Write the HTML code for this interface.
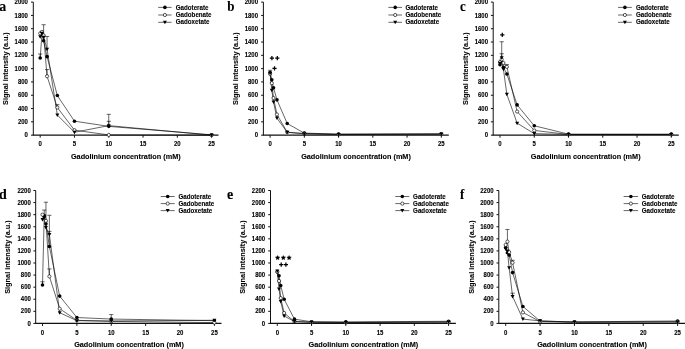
<!DOCTYPE html>
<html><head><meta charset="utf-8"><style>
html,body{margin:0;padding:0;background:#fff;}
svg{display:block;will-change:transform;}
text{font-family:"Liberation Sans",sans-serif;font-weight:bold;fill:#000;stroke:#000;stroke-width:0.1px;}
.t{font-size:6.0px;}
.ti{font-size:7.3px;}
.yti{font-size:7.23px;stroke-width:0.08px;}
.lg{font-size:6.2px;}
.an{font-size:9px;}
.let{font-family:"Liberation Serif",serif;font-size:13px;}
</style></head><body>
<svg width="685" height="349" viewBox="0 0 685 349">
<rect width="685" height="349" fill="#fff"/>
<path d="M33.3 2.1V135.15" fill="none" stroke="#111" stroke-width="1.0"/>
<path d="M32.8 135.15H218.5" fill="none" stroke="#111" stroke-width="1.3"/>
<text transform="translate(27.9 137.25) scale(1 1.07)" class="t" text-anchor="end">0</text>
<text transform="translate(27.9 123.94) scale(1 1.07)" class="t" text-anchor="end">200</text>
<text transform="translate(27.9 110.64) scale(1 1.07)" class="t" text-anchor="end">400</text>
<text transform="translate(27.9 97.34) scale(1 1.07)" class="t" text-anchor="end">600</text>
<text transform="translate(27.9 84.03) scale(1 1.07)" class="t" text-anchor="end">800</text>
<text transform="translate(27.9 70.72) scale(1 1.07)" class="t" text-anchor="end">1000</text>
<text transform="translate(27.9 57.42) scale(1 1.07)" class="t" text-anchor="end">1200</text>
<text transform="translate(27.9 44.12) scale(1 1.07)" class="t" text-anchor="end">1400</text>
<text transform="translate(27.9 30.81) scale(1 1.07)" class="t" text-anchor="end">1600</text>
<text transform="translate(27.9 17.51) scale(1 1.07)" class="t" text-anchor="end">1800</text>
<text transform="translate(27.9 4.2) scale(1 1.07)" class="t" text-anchor="end">2000</text>
<text transform="translate(40.2 146.1) scale(1 1.07)" class="t" text-anchor="middle">0</text>
<text transform="translate(74.48 146.1) scale(1 1.07)" class="t" text-anchor="middle">5</text>
<text transform="translate(108.76 146.1) scale(1 1.07)" class="t" text-anchor="middle">10</text>
<text transform="translate(143.04 146.1) scale(1 1.07)" class="t" text-anchor="middle">15</text>
<text transform="translate(177.32 146.1) scale(1 1.07)" class="t" text-anchor="middle">20</text>
<text transform="translate(211.6 146.1) scale(1 1.07)" class="t" text-anchor="middle">25</text>
<path d="M31 135.15H33.3M31 121.84H33.3M31 108.54H33.3M31 95.24H33.3M31 81.93H33.3M31 68.62H33.3M31 55.32H33.3M31 42.02H33.3M31 28.71H33.3M31 15.41H33.3M31 2.1H33.3M40.2 135.15v2.5M74.48 135.15v2.5M108.76 135.15v2.5M143.04 135.15v2.5M177.32 135.15v2.5M211.6 135.15v2.5" stroke="#111" stroke-width="1.0" fill="none"/>
<text transform="translate(125.8 158.8) scale(1 1.07)" class="ti" text-anchor="middle">Gadolinium concentration (mM)</text>
<text transform="translate(8.4 68.6) rotate(-90) scale(1 1.05)" class="yti" style="font-size:7.23px" text-anchor="middle">Signal intensity (a.u.)</text>
<text transform="translate(-0.7 10.6) scale(1 1.1)" class="let" style="font-size:14px">a</text>
<path d="M158.2 7.4H171.6" stroke="#000" stroke-width="0.6"/>
<circle cx="164.9" cy="7.4" r="1.8" fill="#000"/>
<text transform="translate(175.8 9.5) scale(1 1.07)" class="lg">Gadoterate</text>
<path d="M158.2 15H171.6" stroke="#000" stroke-width="0.6"/>
<circle cx="164.9" cy="15" r="1.6" fill="#fff" stroke="#000" stroke-width="0.65"/>
<text transform="translate(175.8 16.5) scale(1 1.07)" class="lg">Gadobenate</text>
<path d="M158.2 22.3H171.6" stroke="#000" stroke-width="0.6"/>
<path d="M162.9 20.8H166.9L164.9 24.3Z" fill="#000"/>
<text transform="translate(175.8 23.7) scale(1 1.07)" class="lg">Gadoxetate</text>
<path d="M40.2 57.98V53.99M38.1 53.99h4.2" stroke="#000" stroke-width="0.6" fill="none"/>
<path d="M43.63 35.36V24.72M41.53 24.72h4.2" stroke="#000" stroke-width="0.6" fill="none"/>
<path d="M47.06 49.13V36.49M44.96 36.49h4.2" stroke="#000" stroke-width="0.6" fill="none"/>
<path d="M47.06 76.28V69.62M44.96 69.62h4.2" stroke="#000" stroke-width="0.6" fill="none"/>
<path d="M57.34 107.48V104.68M55.24 104.68h4.2" stroke="#000" stroke-width="0.6" fill="none"/>
<path d="M108.76 125.64V114.33M106.66 114.33h4.2" stroke="#000" stroke-width="0.6" fill="none"/>
<path d="M108.76 126.37V121.31M106.66 121.31h4.2" stroke="#000" stroke-width="0.6" fill="none"/>
<path d="M40.2 57.98L41.91 34.36L43.63 40.82L47.06 56.65L57.34 95.57L74.48 121.18L108.76 126.37L211.6 134.82" stroke="#000" stroke-width="0.6" fill="none"/>
<path d="M40.2 33.37L41.91 31.9L43.63 35.36L47.06 76.28L57.34 107.48L74.48 130.16L108.76 134.95L211.6 135.15" stroke="#000" stroke-width="0.6" fill="none"/>
<path d="M40.2 36.69L41.91 33.37L43.63 37.36L47.06 49.13L57.34 115.06L74.48 132.22L108.76 125.64L211.6 135.15" stroke="#000" stroke-width="0.6" fill="none"/>
<circle cx="40.2" cy="57.98" r="1.8" fill="#000"/>
<circle cx="41.91" cy="34.36" r="1.8" fill="#000"/>
<circle cx="43.63" cy="40.82" r="1.8" fill="#000"/>
<circle cx="47.06" cy="56.65" r="1.8" fill="#000"/>
<circle cx="57.34" cy="95.57" r="1.8" fill="#000"/>
<circle cx="74.48" cy="121.18" r="1.8" fill="#000"/>
<circle cx="108.76" cy="126.37" r="1.8" fill="#000"/>
<circle cx="211.6" cy="134.82" r="1.8" fill="#000"/>
<circle cx="40.2" cy="33.37" r="1.6" fill="#fff" stroke="#000" stroke-width="0.65"/>
<circle cx="41.91" cy="31.9" r="1.6" fill="#fff" stroke="#000" stroke-width="0.65"/>
<circle cx="43.63" cy="35.36" r="1.6" fill="#fff" stroke="#000" stroke-width="0.65"/>
<circle cx="47.06" cy="76.28" r="1.6" fill="#fff" stroke="#000" stroke-width="0.65"/>
<circle cx="57.34" cy="107.48" r="1.6" fill="#fff" stroke="#000" stroke-width="0.65"/>
<circle cx="74.48" cy="130.16" r="1.6" fill="#fff" stroke="#000" stroke-width="0.65"/>
<circle cx="108.76" cy="134.95" r="1.6" fill="#fff" stroke="#000" stroke-width="0.65"/>
<circle cx="211.6" cy="135.15" r="1.6" fill="#fff" stroke="#000" stroke-width="0.65"/>
<path d="M38.2 35.19H42.2L40.2 38.69Z" fill="#000"/>
<path d="M39.91 31.87H43.91L41.91 35.37Z" fill="#000"/>
<path d="M41.63 35.86H45.63L43.63 39.36Z" fill="#000"/>
<path d="M45.06 47.63H49.06L47.06 51.13Z" fill="#000"/>
<path d="M55.34 113.56H59.34L57.34 117.06Z" fill="#000"/>
<path d="M72.48 130.72H76.48L74.48 134.22Z" fill="#000"/>
<path d="M106.76 124.14H110.76L108.76 127.64Z" fill="#000"/>
<path d="M209.6 133.65H213.6L211.6 137.15Z" fill="#000"/>
<path d="M263.4 2.1V135.15" fill="none" stroke="#111" stroke-width="1.0"/>
<path d="M262.9 135.15H448.8" fill="none" stroke="#111" stroke-width="1.3"/>
<text transform="translate(258 137.25) scale(1 1.07)" class="t" text-anchor="end">0</text>
<text transform="translate(258 123.94) scale(1 1.07)" class="t" text-anchor="end">200</text>
<text transform="translate(258 110.64) scale(1 1.07)" class="t" text-anchor="end">400</text>
<text transform="translate(258 97.34) scale(1 1.07)" class="t" text-anchor="end">600</text>
<text transform="translate(258 84.03) scale(1 1.07)" class="t" text-anchor="end">800</text>
<text transform="translate(258 70.72) scale(1 1.07)" class="t" text-anchor="end">1000</text>
<text transform="translate(258 57.42) scale(1 1.07)" class="t" text-anchor="end">1200</text>
<text transform="translate(258 44.12) scale(1 1.07)" class="t" text-anchor="end">1400</text>
<text transform="translate(258 30.81) scale(1 1.07)" class="t" text-anchor="end">1600</text>
<text transform="translate(258 17.51) scale(1 1.07)" class="t" text-anchor="end">1800</text>
<text transform="translate(258 4.2) scale(1 1.07)" class="t" text-anchor="end">2000</text>
<text transform="translate(270.1 146.1) scale(1 1.07)" class="t" text-anchor="middle">0</text>
<text transform="translate(304.34 146.1) scale(1 1.07)" class="t" text-anchor="middle">5</text>
<text transform="translate(338.58 146.1) scale(1 1.07)" class="t" text-anchor="middle">10</text>
<text transform="translate(372.82 146.1) scale(1 1.07)" class="t" text-anchor="middle">15</text>
<text transform="translate(407.06 146.1) scale(1 1.07)" class="t" text-anchor="middle">20</text>
<text transform="translate(441.3 146.1) scale(1 1.07)" class="t" text-anchor="middle">25</text>
<path d="M261.1 135.15H263.4M261.1 121.84H263.4M261.1 108.54H263.4M261.1 95.24H263.4M261.1 81.93H263.4M261.1 68.62H263.4M261.1 55.32H263.4M261.1 42.02H263.4M261.1 28.71H263.4M261.1 15.41H263.4M261.1 2.1H263.4M270.1 135.15v2.5M304.34 135.15v2.5M338.58 135.15v2.5M372.82 135.15v2.5M407.06 135.15v2.5M441.3 135.15v2.5" stroke="#111" stroke-width="1.0" fill="none"/>
<text transform="translate(356 158.8) scale(1 1.07)" class="ti" text-anchor="middle">Gadolinium concentration (mM)</text>
<text transform="translate(238.1 68.6) rotate(-90) scale(1 1.05)" class="yti" style="font-size:7.23px" text-anchor="middle">Signal intensity (a.u.)</text>
<text transform="translate(227.3 10.9) scale(1 1.1)" class="let" style="font-size:13px">b</text>
<path d="M388.4 7.4H402" stroke="#000" stroke-width="0.6"/>
<circle cx="395.2" cy="7.4" r="1.8" fill="#000"/>
<text transform="translate(405.4 9.5) scale(1 1.07)" class="lg">Gadoterate</text>
<path d="M388.4 15H402" stroke="#000" stroke-width="0.6"/>
<circle cx="395.2" cy="15" r="1.6" fill="#fff" stroke="#000" stroke-width="0.65"/>
<text transform="translate(405.4 16.5) scale(1 1.07)" class="lg">Gadobenate</text>
<path d="M388.4 22.3H402" stroke="#000" stroke-width="0.6"/>
<path d="M393.2 20.8H397.2L395.2 24.3Z" fill="#000"/>
<text transform="translate(405.4 23.7) scale(1 1.07)" class="lg">Gadoxetate</text>
<path d="M270.1 73.22V70.29M268 70.29h4.2" stroke="#000" stroke-width="0.6" fill="none"/>
<path d="M270.1 72.62L271.81 79.73L273.52 87.72L276.95 99.83L287.22 123.51L304.34 133.15L338.58 134.02L441.3 133.82" stroke="#000" stroke-width="0.6" fill="none"/>
<path d="M270.1 73.95L271.81 83.13L273.52 98.03L276.95 114.46L287.22 132.16L304.34 133.49L338.58 134.48L441.3 134.15" stroke="#000" stroke-width="0.6" fill="none"/>
<path d="M270.1 73.22L271.81 90.31L273.52 102.02L276.95 118.12L287.22 132.36L304.34 133.82L338.58 134.48L441.3 134.15" stroke="#000" stroke-width="0.6" fill="none"/>
<circle cx="270.1" cy="72.62" r="1.8" fill="#000"/>
<circle cx="271.81" cy="79.73" r="1.8" fill="#000"/>
<circle cx="273.52" cy="87.72" r="1.8" fill="#000"/>
<circle cx="276.95" cy="99.83" r="1.8" fill="#000"/>
<circle cx="287.22" cy="123.51" r="1.8" fill="#000"/>
<circle cx="304.34" cy="133.15" r="1.8" fill="#000"/>
<circle cx="338.58" cy="134.02" r="1.8" fill="#000"/>
<circle cx="441.3" cy="133.82" r="1.8" fill="#000"/>
<circle cx="270.1" cy="73.95" r="1.6" fill="#fff" stroke="#000" stroke-width="0.65"/>
<circle cx="271.81" cy="83.13" r="1.6" fill="#fff" stroke="#000" stroke-width="0.65"/>
<circle cx="273.52" cy="98.03" r="1.6" fill="#fff" stroke="#000" stroke-width="0.65"/>
<circle cx="276.95" cy="114.46" r="1.6" fill="#fff" stroke="#000" stroke-width="0.65"/>
<circle cx="287.22" cy="132.16" r="1.6" fill="#fff" stroke="#000" stroke-width="0.65"/>
<circle cx="304.34" cy="133.49" r="1.6" fill="#fff" stroke="#000" stroke-width="0.65"/>
<circle cx="338.58" cy="134.48" r="1.6" fill="#fff" stroke="#000" stroke-width="0.65"/>
<circle cx="441.3" cy="134.15" r="1.6" fill="#fff" stroke="#000" stroke-width="0.65"/>
<path d="M268.1 71.72H272.1L270.1 75.22Z" fill="#000"/>
<path d="M269.81 88.81H273.81L271.81 92.31Z" fill="#000"/>
<path d="M271.52 100.52H275.52L273.52 104.02Z" fill="#000"/>
<path d="M274.95 116.62H278.95L276.95 120.12Z" fill="#000"/>
<path d="M285.22 130.86H289.22L287.22 134.36Z" fill="#000"/>
<path d="M302.34 132.32H306.34L304.34 135.82Z" fill="#000"/>
<path d="M336.58 132.98H340.58L338.58 136.48Z" fill="#000"/>
<path d="M439.3 132.65H443.3L441.3 136.15Z" fill="#000"/>
<path d="M269.8 58.1h4.2M271.9 56v4.2" stroke="#000" stroke-width="1.25" fill="none"/>
<path d="M275.2 58.1h4.2M277.3 56v4.2" stroke="#000" stroke-width="1.25" fill="none"/>
<path d="M272.4 68.4h4.2M274.5 66.3v4.2" stroke="#000" stroke-width="1.25" fill="none"/>
<path d="M493.2 2.1V135.15" fill="none" stroke="#111" stroke-width="1.0"/>
<path d="M492.7 135.15H678.8" fill="none" stroke="#111" stroke-width="1.3"/>
<text transform="translate(488 137.25) scale(1 1.07)" class="t" text-anchor="end">0</text>
<text transform="translate(488 123.94) scale(1 1.07)" class="t" text-anchor="end">200</text>
<text transform="translate(488 110.64) scale(1 1.07)" class="t" text-anchor="end">400</text>
<text transform="translate(488 97.34) scale(1 1.07)" class="t" text-anchor="end">600</text>
<text transform="translate(488 84.03) scale(1 1.07)" class="t" text-anchor="end">800</text>
<text transform="translate(488 70.72) scale(1 1.07)" class="t" text-anchor="end">1000</text>
<text transform="translate(488 57.42) scale(1 1.07)" class="t" text-anchor="end">1200</text>
<text transform="translate(488 44.12) scale(1 1.07)" class="t" text-anchor="end">1400</text>
<text transform="translate(488 30.81) scale(1 1.07)" class="t" text-anchor="end">1600</text>
<text transform="translate(488 17.51) scale(1 1.07)" class="t" text-anchor="end">1800</text>
<text transform="translate(488 4.2) scale(1 1.07)" class="t" text-anchor="end">2000</text>
<text transform="translate(500 146.1) scale(1 1.07)" class="t" text-anchor="middle">0</text>
<text transform="translate(534.26 146.1) scale(1 1.07)" class="t" text-anchor="middle">5</text>
<text transform="translate(568.52 146.1) scale(1 1.07)" class="t" text-anchor="middle">10</text>
<text transform="translate(602.78 146.1) scale(1 1.07)" class="t" text-anchor="middle">15</text>
<text transform="translate(637.04 146.1) scale(1 1.07)" class="t" text-anchor="middle">20</text>
<text transform="translate(671.3 146.1) scale(1 1.07)" class="t" text-anchor="middle">25</text>
<path d="M490.9 135.15H493.2M490.9 121.84H493.2M490.9 108.54H493.2M490.9 95.24H493.2M490.9 81.93H493.2M490.9 68.62H493.2M490.9 55.32H493.2M490.9 42.02H493.2M490.9 28.71H493.2M490.9 15.41H493.2M490.9 2.1H493.2M500 135.15v2.5M534.26 135.15v2.5M568.52 135.15v2.5M602.78 135.15v2.5M637.04 135.15v2.5M671.3 135.15v2.5" stroke="#111" stroke-width="1.0" fill="none"/>
<text transform="translate(585.7 158.8) scale(1 1.07)" class="ti" text-anchor="middle">Gadolinium concentration (mM)</text>
<text transform="translate(468.1 68.6) rotate(-90) scale(1 1.05)" class="yti" style="font-size:7.23px" text-anchor="middle">Signal intensity (a.u.)</text>
<text transform="translate(460 10.9) scale(1 1.1)" class="let" style="font-size:13px">c</text>
<path d="M618 7.4H631.8" stroke="#000" stroke-width="0.6"/>
<circle cx="624.9" cy="7.4" r="1.8" fill="#000"/>
<text transform="translate(636 9.5) scale(1 1.07)" class="lg">Gadoterate</text>
<path d="M618 15H631.8" stroke="#000" stroke-width="0.6"/>
<circle cx="624.9" cy="15" r="1.6" fill="#fff" stroke="#000" stroke-width="0.65"/>
<text transform="translate(636 16.5) scale(1 1.07)" class="lg">Gadobenate</text>
<path d="M618 22.3H631.8" stroke="#000" stroke-width="0.6"/>
<path d="M622.9 20.8H626.9L624.9 24.3Z" fill="#000"/>
<text transform="translate(636 23.7) scale(1 1.07)" class="lg">Gadoxetate</text>
<path d="M501.71 57.71V41.75M499.61 41.75h4.2" stroke="#000" stroke-width="0.6" fill="none"/>
<path d="M501.71 59.44V53.72M499.61 53.72h4.2" stroke="#000" stroke-width="0.6" fill="none"/>
<path d="M506.85 66.83V64.63M504.75 64.63h4.2" stroke="#000" stroke-width="0.6" fill="none"/>
<path d="M500 64.63L501.71 61.97L503.43 67.23L506.85 74.01L517.13 104.88L534.26 125.77L568.52 134.15L671.3 134.15" stroke="#000" stroke-width="0.6" fill="none"/>
<path d="M500 61.97L501.71 59.44L503.43 62.97L506.85 66.83L517.13 111.53L534.26 130.43L568.52 134.48L671.3 134.48" stroke="#000" stroke-width="0.6" fill="none"/>
<path d="M500 63.3L501.71 57.71L503.43 69.22L506.85 94.37L517.13 123.18L534.26 133.62L568.52 134.48L671.3 134.48" stroke="#000" stroke-width="0.6" fill="none"/>
<circle cx="500" cy="64.63" r="1.8" fill="#000"/>
<circle cx="501.71" cy="61.97" r="1.8" fill="#000"/>
<circle cx="503.43" cy="67.23" r="1.8" fill="#000"/>
<circle cx="506.85" cy="74.01" r="1.8" fill="#000"/>
<circle cx="517.13" cy="104.88" r="1.8" fill="#000"/>
<circle cx="534.26" cy="125.77" r="1.8" fill="#000"/>
<circle cx="568.52" cy="134.15" r="1.8" fill="#000"/>
<circle cx="671.3" cy="134.15" r="1.8" fill="#000"/>
<circle cx="500" cy="61.97" r="1.6" fill="#fff" stroke="#000" stroke-width="0.65"/>
<circle cx="501.71" cy="59.44" r="1.6" fill="#fff" stroke="#000" stroke-width="0.65"/>
<circle cx="503.43" cy="62.97" r="1.6" fill="#fff" stroke="#000" stroke-width="0.65"/>
<circle cx="506.85" cy="66.83" r="1.6" fill="#fff" stroke="#000" stroke-width="0.65"/>
<circle cx="517.13" cy="111.53" r="1.6" fill="#fff" stroke="#000" stroke-width="0.65"/>
<circle cx="534.26" cy="130.43" r="1.6" fill="#fff" stroke="#000" stroke-width="0.65"/>
<circle cx="568.52" cy="134.48" r="1.6" fill="#fff" stroke="#000" stroke-width="0.65"/>
<circle cx="671.3" cy="134.48" r="1.6" fill="#fff" stroke="#000" stroke-width="0.65"/>
<path d="M498 61.8H502L500 65.3Z" fill="#000"/>
<path d="M499.71 56.21H503.71L501.71 59.71Z" fill="#000"/>
<path d="M501.43 67.72H505.43L503.43 71.22Z" fill="#000"/>
<path d="M504.85 92.87H508.85L506.85 96.37Z" fill="#000"/>
<path d="M515.13 121.68H519.13L517.13 125.18Z" fill="#000"/>
<path d="M532.26 132.12H536.26L534.26 135.62Z" fill="#000"/>
<path d="M566.52 132.98H570.52L568.52 136.48Z" fill="#000"/>
<path d="M669.3 132.98H673.3L671.3 136.48Z" fill="#000"/>
<path d="M500.2 34.9h4.2M502.3 32.8v4.2" stroke="#000" stroke-width="1.25" fill="none"/>
<path d="M35.7 190.5V323.4" fill="none" stroke="#111" stroke-width="1.0"/>
<path d="M35.2 323.4H221.5" fill="none" stroke="#111" stroke-width="1.3"/>
<text transform="translate(30.8 325.5) scale(1 1.07)" class="t" text-anchor="end">0</text>
<text transform="translate(30.8 313.42) scale(1 1.07)" class="t" text-anchor="end">200</text>
<text transform="translate(30.8 301.34) scale(1 1.07)" class="t" text-anchor="end">400</text>
<text transform="translate(30.8 289.25) scale(1 1.07)" class="t" text-anchor="end">600</text>
<text transform="translate(30.8 277.17) scale(1 1.07)" class="t" text-anchor="end">800</text>
<text transform="translate(30.8 265.09) scale(1 1.07)" class="t" text-anchor="end">1000</text>
<text transform="translate(30.8 253.01) scale(1 1.07)" class="t" text-anchor="end">1200</text>
<text transform="translate(30.8 240.93) scale(1 1.07)" class="t" text-anchor="end">1400</text>
<text transform="translate(30.8 228.85) scale(1 1.07)" class="t" text-anchor="end">1600</text>
<text transform="translate(30.8 216.76) scale(1 1.07)" class="t" text-anchor="end">1800</text>
<text transform="translate(30.8 204.68) scale(1 1.07)" class="t" text-anchor="end">2000</text>
<text transform="translate(30.8 192.6) scale(1 1.07)" class="t" text-anchor="end">2200</text>
<text transform="translate(42.5 334.7) scale(1 1.07)" class="t" text-anchor="middle">0</text>
<text transform="translate(76.88 334.7) scale(1 1.07)" class="t" text-anchor="middle">5</text>
<text transform="translate(111.26 334.7) scale(1 1.07)" class="t" text-anchor="middle">10</text>
<text transform="translate(145.64 334.7) scale(1 1.07)" class="t" text-anchor="middle">15</text>
<text transform="translate(180.02 334.7) scale(1 1.07)" class="t" text-anchor="middle">20</text>
<text transform="translate(214.4 334.7) scale(1 1.07)" class="t" text-anchor="middle">25</text>
<path d="M33.4 323.4H35.7M33.4 311.32H35.7M33.4 299.24H35.7M33.4 287.15H35.7M33.4 275.07H35.7M33.4 262.99H35.7M33.4 250.91H35.7M33.4 238.83H35.7M33.4 226.75H35.7M33.4 214.66H35.7M33.4 202.58H35.7M33.4 190.5H35.7M42.5 323.4v2.5M76.88 323.4v2.5M111.26 323.4v2.5M145.64 323.4v2.5M180.02 323.4v2.5M214.4 323.4v2.5" stroke="#111" stroke-width="1.0" fill="none"/>
<text transform="translate(129 347.4) scale(1 1.07)" class="ti" text-anchor="middle">Gadolinium concentration (mM)</text>
<text transform="translate(10.2 257) rotate(-90) scale(1 1.05)" class="yti" style="font-size:7.33px" text-anchor="middle">Signal intensity (a.u.)</text>
<text transform="translate(-0.9 198.7) scale(1 1.1)" class="let" style="font-size:14px">d</text>
<path d="M160.7 196.5H174.7" stroke="#000" stroke-width="0.6"/>
<circle cx="167.7" cy="196.5" r="1.8" fill="#000"/>
<text transform="translate(178.5 198.7) scale(1 1.07)" class="lg">Gadoterate</text>
<path d="M160.7 203.6H174.7" stroke="#000" stroke-width="0.6"/>
<circle cx="167.7" cy="203.6" r="1.6" fill="#fff" stroke="#000" stroke-width="0.65"/>
<text transform="translate(178.5 205.9) scale(1 1.07)" class="lg">Gadobenate</text>
<path d="M160.7 210.6H174.7" stroke="#000" stroke-width="0.6"/>
<path d="M165.7 209.1H169.7L167.7 212.6Z" fill="#000"/>
<text transform="translate(178.5 213) scale(1 1.07)" class="lg">Gadoxetate</text>
<path d="M42.5 284.98V281.78M40.4 281.78h4.2" stroke="#000" stroke-width="0.6" fill="none"/>
<path d="M45.94 220.83V202.22M43.84 202.22h4.2" stroke="#000" stroke-width="0.6" fill="none"/>
<path d="M44.22 215.57V210.07M42.12 210.07h4.2" stroke="#000" stroke-width="0.6" fill="none"/>
<path d="M49.38 234.48V215.27M47.28 215.27h4.2" stroke="#000" stroke-width="0.6" fill="none"/>
<path d="M49.38 246.5V231.4M47.28 231.4h4.2" stroke="#000" stroke-width="0.6" fill="none"/>
<path d="M49.38 276.4V268.91M47.28 268.91h4.2" stroke="#000" stroke-width="0.6" fill="none"/>
<path d="M111.26 319.05V314.58M109.16 314.58h4.2" stroke="#000" stroke-width="0.6" fill="none"/>
<path d="M42.5 284.98L44.22 215.57L45.94 223.79L49.38 246.5L59.69 296.1L76.88 317.54L111.26 319.05L214.4 320.68" stroke="#000" stroke-width="0.6" fill="none"/>
<path d="M42.5 214.66L44.22 218.29L45.94 220.83L49.38 276.4L59.69 308.72L76.88 320.32L111.26 321.41L214.4 322.61" stroke="#000" stroke-width="0.6" fill="none"/>
<path d="M42.5 219.5L44.22 217.68L45.94 227.59L49.38 234.48L59.69 312.71L76.88 320.68L111.26 320.98L214.4 320.26" stroke="#000" stroke-width="0.6" fill="none"/>
<circle cx="42.5" cy="284.98" r="1.8" fill="#000"/>
<circle cx="44.22" cy="215.57" r="1.8" fill="#000"/>
<circle cx="45.94" cy="223.79" r="1.8" fill="#000"/>
<circle cx="49.38" cy="246.5" r="1.8" fill="#000"/>
<circle cx="59.69" cy="296.1" r="1.8" fill="#000"/>
<circle cx="76.88" cy="317.54" r="1.8" fill="#000"/>
<circle cx="111.26" cy="319.05" r="1.8" fill="#000"/>
<circle cx="214.4" cy="320.68" r="1.8" fill="#000"/>
<circle cx="42.5" cy="214.66" r="1.6" fill="#fff" stroke="#000" stroke-width="0.65"/>
<circle cx="44.22" cy="218.29" r="1.6" fill="#fff" stroke="#000" stroke-width="0.65"/>
<circle cx="45.94" cy="220.83" r="1.6" fill="#fff" stroke="#000" stroke-width="0.65"/>
<circle cx="49.38" cy="276.4" r="1.6" fill="#fff" stroke="#000" stroke-width="0.65"/>
<circle cx="59.69" cy="308.72" r="1.6" fill="#fff" stroke="#000" stroke-width="0.65"/>
<circle cx="76.88" cy="320.32" r="1.6" fill="#fff" stroke="#000" stroke-width="0.65"/>
<circle cx="111.26" cy="321.41" r="1.6" fill="#fff" stroke="#000" stroke-width="0.65"/>
<circle cx="214.4" cy="322.61" r="1.6" fill="#fff" stroke="#000" stroke-width="0.65"/>
<path d="M40.5 218H44.5L42.5 221.5Z" fill="#000"/>
<path d="M42.22 216.18H46.22L44.22 219.68Z" fill="#000"/>
<path d="M43.94 226.09H47.94L45.94 229.59Z" fill="#000"/>
<path d="M47.38 232.98H51.38L49.38 236.48Z" fill="#000"/>
<path d="M57.69 311.21H61.69L59.69 314.71Z" fill="#000"/>
<path d="M74.88 319.18H78.88L76.88 322.68Z" fill="#000"/>
<path d="M109.26 319.48H113.26L111.26 322.98Z" fill="#000"/>
<path d="M212.4 318.76H216.4L214.4 322.26Z" fill="#000"/>
<path d="M270.5 190.5V323.4" fill="none" stroke="#111" stroke-width="1.0"/>
<path d="M270 323.4H455.9" fill="none" stroke="#111" stroke-width="1.3"/>
<text transform="translate(265.2 325.5) scale(1 1.07)" class="t" text-anchor="end">0</text>
<text transform="translate(265.2 313.42) scale(1 1.07)" class="t" text-anchor="end">200</text>
<text transform="translate(265.2 301.34) scale(1 1.07)" class="t" text-anchor="end">400</text>
<text transform="translate(265.2 289.25) scale(1 1.07)" class="t" text-anchor="end">600</text>
<text transform="translate(265.2 277.17) scale(1 1.07)" class="t" text-anchor="end">800</text>
<text transform="translate(265.2 265.09) scale(1 1.07)" class="t" text-anchor="end">1000</text>
<text transform="translate(265.2 253.01) scale(1 1.07)" class="t" text-anchor="end">1200</text>
<text transform="translate(265.2 240.93) scale(1 1.07)" class="t" text-anchor="end">1400</text>
<text transform="translate(265.2 228.85) scale(1 1.07)" class="t" text-anchor="end">1600</text>
<text transform="translate(265.2 216.76) scale(1 1.07)" class="t" text-anchor="end">1800</text>
<text transform="translate(265.2 204.68) scale(1 1.07)" class="t" text-anchor="end">2000</text>
<text transform="translate(265.2 192.6) scale(1 1.07)" class="t" text-anchor="end">2200</text>
<text transform="translate(277.3 334.7) scale(1 1.07)" class="t" text-anchor="middle">0</text>
<text transform="translate(311.56 334.7) scale(1 1.07)" class="t" text-anchor="middle">5</text>
<text transform="translate(345.82 334.7) scale(1 1.07)" class="t" text-anchor="middle">10</text>
<text transform="translate(380.08 334.7) scale(1 1.07)" class="t" text-anchor="middle">15</text>
<text transform="translate(414.34 334.7) scale(1 1.07)" class="t" text-anchor="middle">20</text>
<text transform="translate(448.6 334.7) scale(1 1.07)" class="t" text-anchor="middle">25</text>
<path d="M268.2 323.4H270.5M268.2 311.32H270.5M268.2 299.24H270.5M268.2 287.15H270.5M268.2 275.07H270.5M268.2 262.99H270.5M268.2 250.91H270.5M268.2 238.83H270.5M268.2 226.75H270.5M268.2 214.66H270.5M268.2 202.58H270.5M268.2 190.5H270.5M277.3 323.4v2.5M311.56 323.4v2.5M345.82 323.4v2.5M380.08 323.4v2.5M414.34 323.4v2.5M448.6 323.4v2.5" stroke="#111" stroke-width="1.0" fill="none"/>
<text transform="translate(363.4 347.4) scale(1 1.07)" class="ti" text-anchor="middle">Gadolinium concentration (mM)</text>
<text transform="translate(245.2 257) rotate(-90) scale(1 1.05)" class="yti" style="font-size:7.33px" text-anchor="middle">Signal intensity (a.u.)</text>
<text transform="translate(226.9 198.8) scale(1 1.1)" class="let" style="font-size:14px">e</text>
<path d="M395.3 196.5H409.3" stroke="#000" stroke-width="0.6"/>
<circle cx="402.3" cy="196.5" r="1.8" fill="#000"/>
<text transform="translate(413.1 198.7) scale(1 1.07)" class="lg">Gadoterate</text>
<path d="M395.3 203.6H409.3" stroke="#000" stroke-width="0.6"/>
<circle cx="402.3" cy="203.6" r="1.6" fill="#fff" stroke="#000" stroke-width="0.65"/>
<text transform="translate(413.1 205.9) scale(1 1.07)" class="lg">Gadobenate</text>
<path d="M395.3 210.6H409.3" stroke="#000" stroke-width="0.6"/>
<path d="M400.3 209.1H404.3L402.3 212.6Z" fill="#000"/>
<text transform="translate(413.1 213) scale(1 1.07)" class="lg">Gadoxetate</text>
<path d="M277.3 271.93L279.01 275.68L280.73 285.46L284.15 299.3L294.43 319.17L311.56 321.77L345.82 321.89L448.6 321.29" stroke="#000" stroke-width="0.6" fill="none"/>
<path d="M277.3 271.69L279.01 280.99L280.73 298.09L284.15 313.01L294.43 321.53L311.56 322.19L345.82 322.49L448.6 322.19" stroke="#000" stroke-width="0.6" fill="none"/>
<path d="M277.3 271.09L279.01 288.97L280.73 301.59L284.15 315.97L294.43 321.53L311.56 322.19L345.82 322.49L448.6 321.89" stroke="#000" stroke-width="0.6" fill="none"/>
<circle cx="277.3" cy="271.93" r="1.8" fill="#000"/>
<circle cx="279.01" cy="275.68" r="1.8" fill="#000"/>
<circle cx="280.73" cy="285.46" r="1.8" fill="#000"/>
<circle cx="284.15" cy="299.3" r="1.8" fill="#000"/>
<circle cx="294.43" cy="319.17" r="1.8" fill="#000"/>
<circle cx="311.56" cy="321.77" r="1.8" fill="#000"/>
<circle cx="345.82" cy="321.89" r="1.8" fill="#000"/>
<circle cx="448.6" cy="321.29" r="1.8" fill="#000"/>
<circle cx="277.3" cy="271.69" r="1.6" fill="#fff" stroke="#000" stroke-width="0.65"/>
<circle cx="279.01" cy="280.99" r="1.6" fill="#fff" stroke="#000" stroke-width="0.65"/>
<circle cx="280.73" cy="298.09" r="1.6" fill="#fff" stroke="#000" stroke-width="0.65"/>
<circle cx="284.15" cy="313.01" r="1.6" fill="#fff" stroke="#000" stroke-width="0.65"/>
<circle cx="294.43" cy="321.53" r="1.6" fill="#fff" stroke="#000" stroke-width="0.65"/>
<circle cx="311.56" cy="322.19" r="1.6" fill="#fff" stroke="#000" stroke-width="0.65"/>
<circle cx="345.82" cy="322.49" r="1.6" fill="#fff" stroke="#000" stroke-width="0.65"/>
<circle cx="448.6" cy="322.19" r="1.6" fill="#fff" stroke="#000" stroke-width="0.65"/>
<path d="M275.3 269.59H279.3L277.3 273.09Z" fill="#000"/>
<path d="M277.01 287.47H281.01L279.01 290.97Z" fill="#000"/>
<path d="M278.73 300.09H282.73L280.73 303.59Z" fill="#000"/>
<path d="M282.15 314.47H286.15L284.15 317.97Z" fill="#000"/>
<path d="M292.43 320.03H296.43L294.43 323.53Z" fill="#000"/>
<path d="M309.56 320.69H313.56L311.56 324.19Z" fill="#000"/>
<path d="M343.82 320.99H347.82L345.82 324.49Z" fill="#000"/>
<path d="M446.6 320.39H450.6L448.6 323.89Z" fill="#000"/>
<path d="M277.6 255.4L278.31 256.83L279.88 257.06L278.74 258.17L279.01 259.74L277.6 259L276.19 259.74L276.46 258.17L275.32 257.06L276.89 256.83Z" fill="#000" stroke="#000" stroke-width="0.3"/>
<path d="M283.35 255.4L284.06 256.83L285.63 257.06L284.49 258.17L284.76 259.74L283.35 259L281.94 259.74L282.21 258.17L281.07 257.06L282.64 256.83Z" fill="#000" stroke="#000" stroke-width="0.3"/>
<path d="M289.1 255.4L289.81 256.83L291.38 257.06L290.24 258.17L290.51 259.74L289.1 259L287.69 259.74L287.96 258.17L286.82 257.06L288.39 256.83Z" fill="#000" stroke="#000" stroke-width="0.3"/>
<path d="M279.1 264.6h4.2M281.2 262.5v4.2" stroke="#000" stroke-width="1.25" fill="none"/>
<path d="M283.8 264.6h4.2M285.9 262.5v4.2" stroke="#000" stroke-width="1.25" fill="none"/>
<path d="M498.8 190.5V323.4" fill="none" stroke="#111" stroke-width="1.0"/>
<path d="M498.3 323.4H685.5" fill="none" stroke="#111" stroke-width="1.3"/>
<text transform="translate(493.6 325.5) scale(1 1.07)" class="t" text-anchor="end">0</text>
<text transform="translate(493.6 313.42) scale(1 1.07)" class="t" text-anchor="end">200</text>
<text transform="translate(493.6 301.34) scale(1 1.07)" class="t" text-anchor="end">400</text>
<text transform="translate(493.6 289.25) scale(1 1.07)" class="t" text-anchor="end">600</text>
<text transform="translate(493.6 277.17) scale(1 1.07)" class="t" text-anchor="end">800</text>
<text transform="translate(493.6 265.09) scale(1 1.07)" class="t" text-anchor="end">1000</text>
<text transform="translate(493.6 253.01) scale(1 1.07)" class="t" text-anchor="end">1200</text>
<text transform="translate(493.6 240.93) scale(1 1.07)" class="t" text-anchor="end">1400</text>
<text transform="translate(493.6 228.85) scale(1 1.07)" class="t" text-anchor="end">1600</text>
<text transform="translate(493.6 216.76) scale(1 1.07)" class="t" text-anchor="end">1800</text>
<text transform="translate(493.6 204.68) scale(1 1.07)" class="t" text-anchor="end">2000</text>
<text transform="translate(493.6 192.6) scale(1 1.07)" class="t" text-anchor="end">2200</text>
<text transform="translate(505.7 334.7) scale(1 1.07)" class="t" text-anchor="middle">0</text>
<text transform="translate(540.08 334.7) scale(1 1.07)" class="t" text-anchor="middle">5</text>
<text transform="translate(574.46 334.7) scale(1 1.07)" class="t" text-anchor="middle">10</text>
<text transform="translate(608.84 334.7) scale(1 1.07)" class="t" text-anchor="middle">15</text>
<text transform="translate(643.22 334.7) scale(1 1.07)" class="t" text-anchor="middle">20</text>
<text transform="translate(677.6 334.7) scale(1 1.07)" class="t" text-anchor="middle">25</text>
<path d="M496.5 323.4H498.8M496.5 311.32H498.8M496.5 299.24H498.8M496.5 287.15H498.8M496.5 275.07H498.8M496.5 262.99H498.8M496.5 250.91H498.8M496.5 238.83H498.8M496.5 226.75H498.8M496.5 214.66H498.8M496.5 202.58H498.8M496.5 190.5H498.8M505.7 323.4v2.5M540.08 323.4v2.5M574.46 323.4v2.5M608.84 323.4v2.5M643.22 323.4v2.5M677.6 323.4v2.5" stroke="#111" stroke-width="1.0" fill="none"/>
<text transform="translate(592 347.4) scale(1 1.07)" class="ti" text-anchor="middle">Gadolinium concentration (mM)</text>
<text transform="translate(473.6 257) rotate(-90) scale(1 1.05)" class="yti" style="font-size:7.33px" text-anchor="middle">Signal intensity (a.u.)</text>
<text transform="translate(460 198.8) scale(1 1.1)" class="let" style="font-size:13px">f</text>
<path d="M623.6 196.5H638.1" stroke="#000" stroke-width="0.6"/>
<circle cx="630.85" cy="196.5" r="1.8" fill="#000"/>
<text transform="translate(641.8 198.7) scale(1 1.07)" class="lg">Gadoterate</text>
<path d="M623.6 203.6H638.1" stroke="#000" stroke-width="0.6"/>
<circle cx="630.85" cy="203.6" r="1.6" fill="#fff" stroke="#000" stroke-width="0.65"/>
<text transform="translate(641.8 205.9) scale(1 1.07)" class="lg">Gadobenate</text>
<path d="M623.6 210.6H638.1" stroke="#000" stroke-width="0.6"/>
<path d="M628.85 209.1H632.85L630.85 212.6Z" fill="#000"/>
<text transform="translate(641.8 213) scale(1 1.07)" class="lg">Gadoxetate</text>
<path d="M507.42 241.61V229.46M505.32 229.46h4.2" stroke="#000" stroke-width="0.6" fill="none"/>
<path d="M512.58 262.69V260.27M510.48 260.27h4.2" stroke="#000" stroke-width="0.6" fill="none"/>
<path d="M512.58 296.4V293.2M510.48 293.2h4.2" stroke="#000" stroke-width="0.6" fill="none"/>
<path d="M505.7 247.59L507.42 252.72L509.14 255.08L512.58 272.6L522.89 306.43L540.08 321.1L574.46 321.89L677.6 320.98" stroke="#000" stroke-width="0.6" fill="none"/>
<path d="M505.7 244.87L507.42 241.61L509.14 252.12L512.58 262.69L522.89 312.41L540.08 321.59L574.46 322.19L677.6 321.89" stroke="#000" stroke-width="0.6" fill="none"/>
<path d="M505.7 249.1L507.42 250.91L509.14 267.82L512.58 296.4L522.89 319.11L540.08 320.86L574.46 322.19L677.6 321.89" stroke="#000" stroke-width="0.6" fill="none"/>
<circle cx="505.7" cy="247.59" r="1.8" fill="#000"/>
<circle cx="507.42" cy="252.72" r="1.8" fill="#000"/>
<circle cx="509.14" cy="255.08" r="1.8" fill="#000"/>
<circle cx="512.58" cy="272.6" r="1.8" fill="#000"/>
<circle cx="522.89" cy="306.43" r="1.8" fill="#000"/>
<circle cx="540.08" cy="321.1" r="1.8" fill="#000"/>
<circle cx="574.46" cy="321.89" r="1.8" fill="#000"/>
<circle cx="677.6" cy="320.98" r="1.8" fill="#000"/>
<circle cx="505.7" cy="244.87" r="1.6" fill="#fff" stroke="#000" stroke-width="0.65"/>
<circle cx="507.42" cy="241.61" r="1.6" fill="#fff" stroke="#000" stroke-width="0.65"/>
<circle cx="509.14" cy="252.12" r="1.6" fill="#fff" stroke="#000" stroke-width="0.65"/>
<circle cx="512.58" cy="262.69" r="1.6" fill="#fff" stroke="#000" stroke-width="0.65"/>
<circle cx="522.89" cy="312.41" r="1.6" fill="#fff" stroke="#000" stroke-width="0.65"/>
<circle cx="540.08" cy="321.59" r="1.6" fill="#fff" stroke="#000" stroke-width="0.65"/>
<circle cx="574.46" cy="322.19" r="1.6" fill="#fff" stroke="#000" stroke-width="0.65"/>
<circle cx="677.6" cy="321.89" r="1.6" fill="#fff" stroke="#000" stroke-width="0.65"/>
<path d="M503.7 247.6H507.7L505.7 251.1Z" fill="#000"/>
<path d="M505.42 249.41H509.42L507.42 252.91Z" fill="#000"/>
<path d="M507.14 266.32H511.14L509.14 269.82Z" fill="#000"/>
<path d="M510.58 294.9H514.58L512.58 298.4Z" fill="#000"/>
<path d="M520.89 317.61H524.89L522.89 321.11Z" fill="#000"/>
<path d="M538.08 319.36H542.08L540.08 322.86Z" fill="#000"/>
<path d="M572.46 320.69H576.46L574.46 324.19Z" fill="#000"/>
<path d="M675.6 320.39H679.6L677.6 323.89Z" fill="#000"/>
</svg>
</body></html>
